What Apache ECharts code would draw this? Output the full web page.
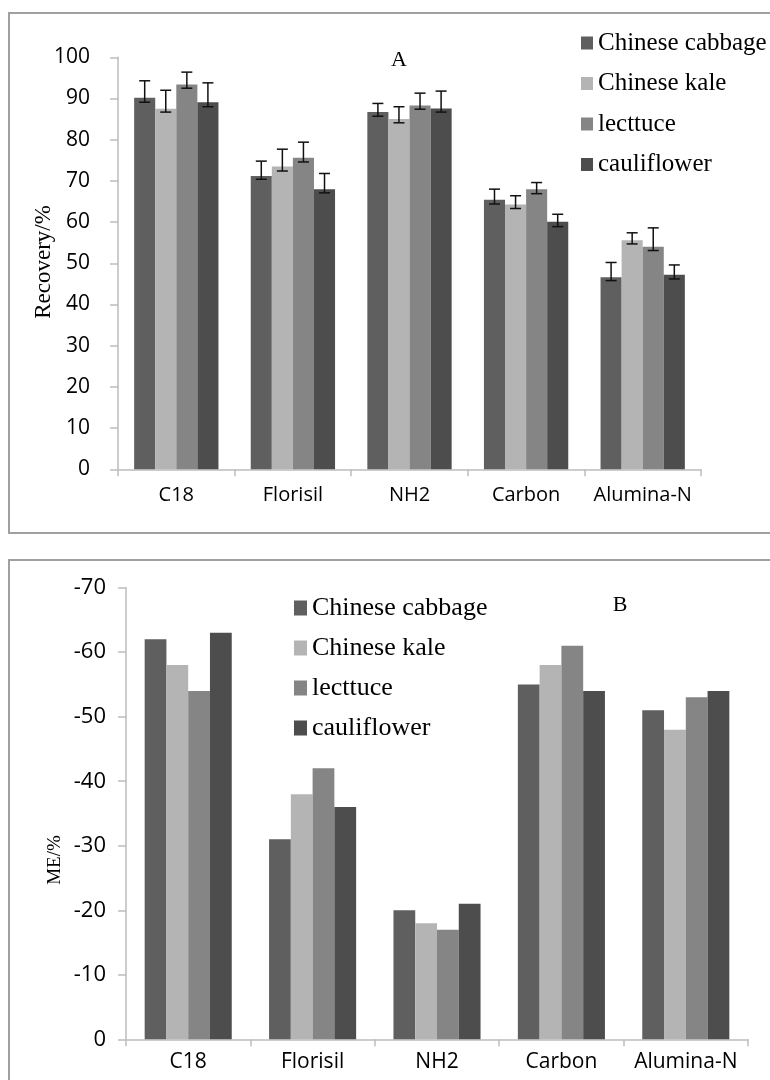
<!DOCTYPE html>
<html><head><meta charset="utf-8">
<script src="https://cdn.jsdelivr.net/npm/echarts@6/dist/echarts.min.js"></script>
<style>html,body{margin:0;padding:0;background:#fff}#c{width:770px;height:1080px}</style>
</head><body><div id="c"></div>
<script>
const categories = ['C18', 'Florisil', 'NH2', 'Carbon', 'Alumina-N'];
const seriesNames = ['Chinese cabbage', 'Chinese kale', 'lecttuce', 'cauliflower'];
const colors = ['#5f5f5f', '#b4b4b4', '#858585', '#4d4d4d'];

// Panel A: Recovery/%
const recCabbage = [90.2, 71.2, 86.7, 65.4, 46.6];
const recKale    = [87.5, 73.5, 85.0, 64.3, 55.6];
const recLettuce = [93.4, 75.6, 88.3, 68.0, 54.0];
const recCauli   = [89.1, 68.0, 87.6, 60.1, 47.2];
// error bar extents (above / below the bar top)
const errUpCabbage = [4.1, 3.6, 2.1, 2.6, 3.6];
const errUpKale    = [4.5, 4.2, 3.0, 2.1, 1.8];
const errUpLettuce = [3.0, 3.8, 3.0, 1.6, 4.6];
const errUpCauli   = [4.7, 3.8, 4.2, 1.8, 2.4];
const errDnCabbage = [1.1, 0.8, 1.0, 1.0, 0.8];
const errDnKale    = [0.8, 1.1, 0.9, 1.0, 0.9];
const errDnLettuce = [0.9, 1.0, 0.9, 1.1, 0.9];
const errDnCauli   = [1.1, 0.9, 0.9, 1.2, 1.0];

// Panel B: ME/%
const meCabbage = [-62, -31, -20, -55, -51];
const meKale    = [-58, -38, -18, -58, -48];
const meLettuce = [-54, -42, -17, -61, -53];
const meCauli   = [-63, -36, -21, -54, -54];

const recTicks = { min: 0, max: 100, interval: 10 };
const meTicks = { min: -70, max: 0, interval: 10 };

const recSets = [recCabbage, recKale, recLettuce, recCauli];
const errUps = [errUpCabbage, errUpKale, errUpLettuce, errUpCauli];
const errDns = [errDnCabbage, errDnKale, errDnLettuce, errDnCauli];
const meSets = [meCabbage, meKale, meLettuce, meCauli];

const GAP_A = 0.277, GAP_B = 0.30;
const sansFont = 'Open Sans';
const serifFont = 'Liberation Serif';
const axisGray = '#bdbdbd';

function errRender(idx) {
  return function (params, api) {
    const c = api.value(0);
    const lo = api.coord([c, api.value(1)]);
    const hi = api.coord([c, api.value(2)]);
    const catW = api.size([1, 0])[0];
    const bw = catW * (1 - GAP_A) / 4;
    const x = lo[0] + (idx - 1.5) * bw;
    const cap = 5.5;
    const st = { stroke: '#111', lineWidth: 1.5 };
    return { type: 'group', children: [
      { type: 'line', shape: { x1: x, y1: lo[1], x2: x, y2: hi[1] }, style: st },
      { type: 'line', shape: { x1: x - cap, y1: lo[1], x2: x + cap, y2: lo[1] }, style: st },
      { type: 'line', shape: { x1: x - cap, y1: hi[1], x2: x + cap, y2: hi[1] }, style: st }
    ]};
  };
}

const series = [];
seriesNames.forEach((n, i) => {
  series.push({
    name: n, type: 'bar', xAxisIndex: 0, yAxisIndex: 0,
    data: recSets[i], barGap: '0%', barCategoryGap: (GAP_A * 100) + '%',
    itemStyle: { color: colors[i] }, z: 2
  });
});
seriesNames.forEach((n, i) => {
  series.push({
    type: 'custom', xAxisIndex: 0, yAxisIndex: 0, z: 5,
    renderItem: errRender(i),
    encode: { x: 0, y: [1, 2] },
    data: recSets[i].map((v, k) => [k, +(v - errDns[i][k]).toFixed(2), +(v + errUps[i][k]).toFixed(2)])
  });
});
seriesNames.forEach((n, i) => {
  series.push({
    name: n, type: 'bar', xAxisIndex: 1, yAxisIndex: 1,
    data: meSets[i], barGap: '0%', barCategoryGap: (GAP_B * 100) + '%',
    itemStyle: { color: colors[i] }, z: 2
  });
});

function xAxisCfg(gi, size, margin) {
  return {
    type: 'category', gridIndex: gi, data: categories,
    axisLine: { lineStyle: { color: axisGray, width: 1.5 } },
    axisTick: { show: true, length: 7, lineStyle: { color: axisGray, width: 1.5 } },
    axisLabel: { interval: 0, color: '#000', fontFamily: sansFont, fontSize: size, margin: margin },
    splitLine: { show: false }
  };
}

const option = {
  animation: false,
  backgroundColor: '#fff',
  grid: [
    { left: 118, right: 69, top: 57.3, bottom: 1080 - 469.3 },
    { left: 126, right: 22, top: 587.7, bottom: 1080 - 1039.3 }
  ],
  xAxis: [xAxisCfg(0, 20, 16), xAxisCfg(1, 21, 12)],
  yAxis: [
    {
      type: 'value', gridIndex: 0, min: recTicks.min, max: recTicks.max, interval: recTicks.interval,
      axisLine: { show: true, lineStyle: { color: axisGray, width: 1.5 } },
      axisTick: { show: true, length: 8, lineStyle: { color: axisGray, width: 1.5 } },
      axisLabel: { color: '#000', fontFamily: sansFont, fontSize: 21, margin: 28 },
      splitLine: { show: false }
    },
    {
      type: 'value', gridIndex: 1, inverse: true, min: meTicks.min, max: meTicks.max, interval: meTicks.interval,
      axisLine: { show: true, lineStyle: { color: axisGray, width: 1.5 } },
      axisTick: { show: true, length: 8, lineStyle: { color: axisGray, width: 1.5 } },
      axisLabel: { color: '#000', fontFamily: sansFont, fontSize: 22, margin: 20 },
      splitLine: { show: false }
    }
  ],
  legend: [
    {
      orient: 'vertical', left: 581, top: 28, padding: 0, itemGap: 10.5,
      itemWidth: 12, itemHeight: 13, icon: 'rect', data: seriesNames,
      textStyle: { color: '#000', fontFamily: serifFont, fontSize: 25, lineHeight: 30 }
    },
    {
      orient: 'vertical', left: 294, top: 592, padding: 0, itemGap: 8,
      itemWidth: 13, itemHeight: 15, icon: 'rect', data: seriesNames,
      textStyle: { color: '#000', fontFamily: serifFont, fontSize: 26, lineHeight: 32 }
    }
  ],
  graphic: [
    { type: 'rect', shape: { x: 9, y: 13, width: 800, height: 520 }, style: { fill: 'none', stroke: '#a0a0a0', lineWidth: 2 }, silent: true },
    { type: 'rect', shape: { x: 9, y: 560, width: 800, height: 560 }, style: { fill: 'none', stroke: '#a0a0a0', lineWidth: 2 }, silent: true },
    { type: 'text', x: 399, y: 60, style: { text: 'A', fontFamily: serifFont, fontSize: 22, fill: '#000', textAlign: 'center', textVerticalAlign: 'middle' } },
    { type: 'text', x: 620, y: 605, style: { text: 'B', fontFamily: serifFont, fontSize: 22, fill: '#000', textAlign: 'center', textVerticalAlign: 'middle' } },
    { type: 'text', x: 44, y: 262, rotation: Math.PI / 2, style: { text: 'Recovery/%', fontFamily: serifFont, fontSize: 23, fill: '#000', textAlign: 'center', textVerticalAlign: 'middle' } },
    { type: 'text', x: 55, y: 860, rotation: Math.PI / 2, style: { text: 'ME/%', fontFamily: serifFont, fontSize: 19, fill: '#000', textAlign: 'center', textVerticalAlign: 'middle' } }
  ],
  series: series
};

const chart = echarts.init(document.getElementById('c'), null, { renderer: 'canvas' });
chart.setOption(option);
</script>
</body></html>
